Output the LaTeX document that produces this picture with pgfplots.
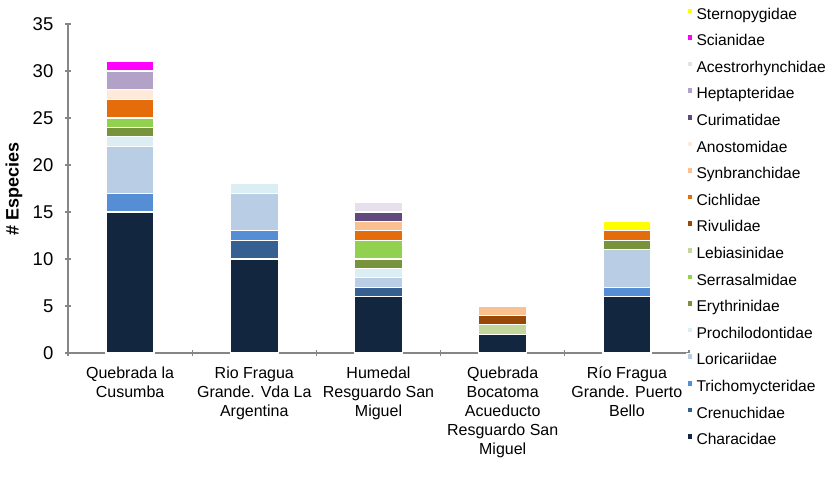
\documentclass[border=0pt]{standalone}
\usepackage{fontspec}
\setmainfont{Liberation Sans}
\usepackage{pgfplots}
\usepackage{pgfplotstable}
\pgfplotsset{compat=1.18}

\definecolor{cChar}{HTML}{12263F}
\definecolor{cCren}{HTML}{366092}
\definecolor{cTric}{HTML}{558ED5}
\definecolor{cLori}{HTML}{B9CDE5}
\definecolor{cProc}{HTML}{DBEEF4}
\definecolor{cEryt}{HTML}{77933C}
\definecolor{cSerr}{HTML}{92D050}
\definecolor{cLebi}{HTML}{C3D69B}
\definecolor{cRivu}{HTML}{984807}
\definecolor{cCich}{HTML}{E46C0A}
\definecolor{cSynb}{HTML}{FAC090}
\definecolor{cAnos}{HTML}{FDEADA}
\definecolor{cCuri}{HTML}{604A7B}
\definecolor{cHept}{HTML}{B3A2C7}
\definecolor{cAces}{HTML}{E6E0EC}
\definecolor{cScia}{HTML}{FF00FF}
\definecolor{cSter}{HTML}{FFFF00}
\definecolor{axisgray}{HTML}{868686}

\pgfplotstableread{
x Char Cren Tric Lori Proc Eryt Serr Lebi Rivu Cich Synb Anos Curi Hept Aces Scia Ster
0 15 0 2 5 1 1 1 0 0 2 0 1 0 2 0 1 0
1 10 2 1 4 1 0 0 0 0 0 0 0 0 0 0 0 0
2 6 1 0 1 1 1 2 0 0 1 1 0 1 0 1 0 0
3 2 0 0 0 0 0 0 1 1 0 1 0 0 0 0 0 0
4 6 0 1 4 0 1 0 0 0 1 0 0 0 0 0 0 1
}\data

\begin{document}
\begin{tikzpicture}
\useasboundingbox (-68bp,-132bp) rectangle (761bp,353bp);
\begin{axis}[
  at={(0,0)}, anchor=south west,
  scale only axis, width=621bp, height=329bp,
  ybar stacked, bar width=0.387,
  xmin=-0.5, xmax=4.5, ymin=0, ymax=35,
  ytick={0,5,...,35},
  xtick={0,...,4},
  xticklabels={{Quebrada la\\Cusumba},{Rio Fragua\\Grande. Vda La\\Argentina},{Humedal\\Resguardo San\\Miguel},{Quebrada\\Bocatoma\\Acueducto\\Resguardo San\\Miguel},{Río Fragua\\Grande. Puerto\\Bello}},
  minor xtick={-0.5,0.5,...,4.5},
  major x tick style={draw=none},
  tick align=outside,
  major tick length=5bp, minor tick length=6bp,
  every tick/.style={draw=axisgray, line width=1.2bp},
  axis x line=bottom, axis y line=left,
  axis line style={-, draw=axisgray, line width=1.4bp},
  /pgf/number format/assume math mode=true,
  yticklabel style={font=\fontsize{18.5bp}{21bp}\selectfont, inner sep=0pt, xshift=-12bp},
  xticklabel style={font=\fontsize{16bp}{19bp}\selectfont, align=center, inner sep=0pt, yshift=-11bp},
  ylabel={\textbf{\# Especies}},
  ylabel style={at={(axis description cs:-0.087,0.5)}, anchor=center, font=\fontsize{18bp}{21bp}\selectfont},
  legend style={at={(axis description cs:0.9952,1.0517)}, anchor=north west, draw=none, fill=none, inner sep=0pt,
    font=\fontsize{15.6bp}{18.5bp}\selectfont, row sep=11.1bp,
    nodes={inner sep=0pt, text height=12bp, text depth=3.5bp},
    /tikz/every odd column/.append style={column sep=3bp}},
  legend cell align=left,
  reverse legend,
  legend image code/.code={\fill[#1] (0bp,1bp) rectangle (6bp,7bp);},
  every axis plot/.append style={draw=white, line width=1.3bp},
]
\addplot[fill=cChar] table[x=x,y=Char]{\data}; \addlegendentry{Characidae}
\addplot[fill=cCren] table[x=x,y=Cren]{\data}; \addlegendentry{Crenuchidae}
\addplot[fill=cTric] table[x=x,y=Tric]{\data}; \addlegendentry{Trichomycteridae}
\addplot[fill=cLori] table[x=x,y=Lori]{\data}; \addlegendentry{Loricariidae}
\addplot[fill=cProc] table[x=x,y=Proc]{\data}; \addlegendentry{Prochilodontidae}
\addplot[fill=cEryt] table[x=x,y=Eryt]{\data}; \addlegendentry{Erythrinidae}
\addplot[fill=cSerr] table[x=x,y=Serr]{\data}; \addlegendentry{Serrasalmidae}
\addplot[fill=cLebi] table[x=x,y=Lebi]{\data}; \addlegendentry{Lebiasinidae}
\addplot[fill=cRivu] table[x=x,y=Rivu]{\data}; \addlegendentry{Rivulidae}
\addplot[fill=cCich] table[x=x,y=Cich]{\data}; \addlegendentry{Cichlidae}
\addplot[fill=cSynb] table[x=x,y=Synb]{\data}; \addlegendentry{Synbranchidae}
\addplot[fill=cAnos] table[x=x,y=Anos]{\data}; \addlegendentry{Anostomidae}
\addplot[fill=cCuri] table[x=x,y=Curi]{\data}; \addlegendentry{Curimatidae}
\addplot[fill=cHept] table[x=x,y=Hept]{\data}; \addlegendentry{Heptapteridae}
\addplot[fill=cAces] table[x=x,y=Aces]{\data}; \addlegendentry{Acestrorhynchidae}
\addplot[fill=cScia] table[x=x,y=Scia]{\data}; \addlegendentry{Scianidae}
\addplot[fill=cSter] table[x=x,y=Ster]{\data}; \addlegendentry{Sternopygidae}
\end{axis}
\end{tikzpicture}
\end{document}
